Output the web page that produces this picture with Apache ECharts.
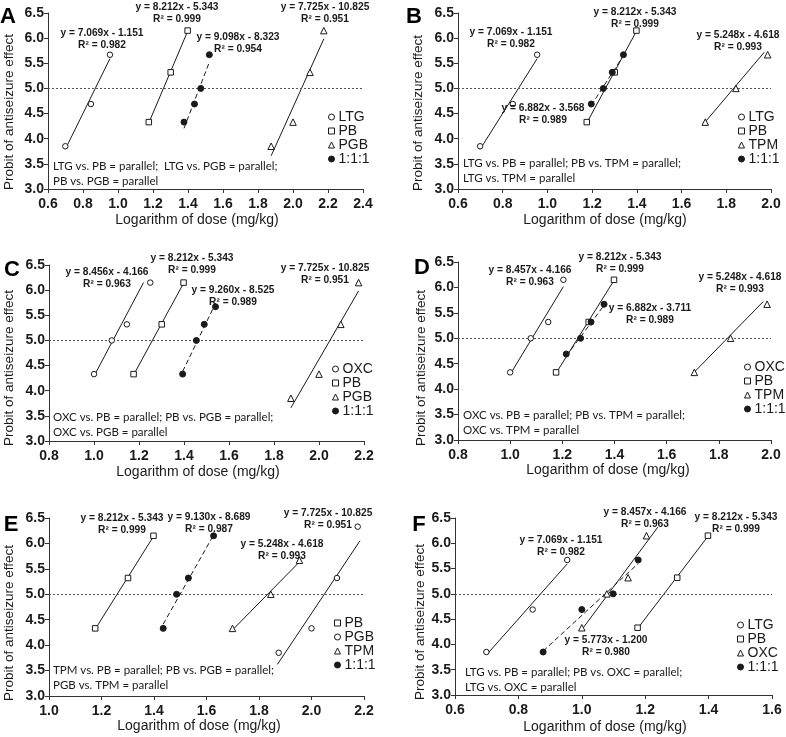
<!DOCTYPE html>
<html><head><meta charset="utf-8">
<script src="https://cdn.jsdelivr.net/npm/echarts@6/dist/echarts.min.js"></script>
<style>html,body{margin:0;padding:0;background:#fff}#c{width:786px;height:737px}</style>
</head><body><div id="c"></div><script>
// ---------- data ----------
const panelLetters = ['A','B','C','D','E','F'];
const xMin = [0.6, 0.6, 0.8, 0.8, 1.0, 0.6];
const xMax = [2.4, 2.0, 2.2, 2.0, 2.2, 1.6];
const yMin = 3.0, yMax = 6.5, yStep = 0.5, xStep = 0.2;
const refProbit = 5.0;

// Panel A
const A_LTG = [[0.699,3.85],[0.845,4.69],[0.954,5.67]];
const A_PB  = [[1.176,4.33],[1.301,5.32],[1.398,6.15]];
const A_PGB = [[1.875,3.85],[2.000,4.33],[2.097,5.32],[2.176,6.15]];
const A_MIX = [[1.377,4.33],[1.437,4.69],[1.473,5.00],[1.522,5.67]];
// Panel B
const B_LTG = [[0.699,3.85],[0.845,4.69],[0.954,5.67]];
const B_PB  = [[1.176,4.33],[1.301,5.32],[1.398,6.15]];
const B_TPM = [[1.706,4.33],[1.843,5.00],[1.985,5.67]];
const B_MIX = [[1.196,4.69],[1.250,5.00],[1.290,5.32],[1.340,5.67]];
// Panel C
const C_OXC = [[1.000,4.33],[1.079,5.00],[1.146,5.32],[1.250,6.15]];
const C_PB  = [[1.176,4.33],[1.301,5.32],[1.398,6.15]];
const C_PGB = [[1.875,3.85],[2.000,4.33],[2.097,5.32],[2.176,6.15]];
const C_MIX = [[1.394,4.33],[1.455,5.00],[1.490,5.32],[1.540,5.67]];
// Panel D
const D_OXC = [[1.000,4.33],[1.079,5.00],[1.146,5.32],[1.204,6.15]];
const D_PB  = [[1.176,4.33],[1.301,5.32],[1.398,6.15]];
const D_TPM = [[1.706,4.33],[1.845,5.00],[1.985,5.67]];
const D_MIX = [[1.215,4.69],[1.270,5.00],[1.310,5.32],[1.360,5.67]];
// Panel E
const E_PB  = [[1.176,4.33],[1.301,5.32],[1.398,6.15]];
const E_PGB = [[1.875,3.85],[2.000,4.33],[2.097,5.32],[2.176,6.33]];
const E_TPM = [[1.699,4.33],[1.845,5.00],[1.954,5.67]];
const E_MIX = [[1.435,4.33],[1.486,5.00],[1.531,5.32],[1.627,6.15]];
// Panel F
const F_LTG = [[0.699,3.85],[0.845,4.69],[0.954,5.67]];
const F_PB  = [[1.176,4.33],[1.301,5.32],[1.398,6.15]];
const F_OXC = [[1.000,4.33],[1.079,5.00],[1.146,5.32],[1.204,6.15]];
const F_MIX = [[0.878,3.85],[1.000,4.69],[1.099,5.00],[1.178,5.67]];

// trendline equations [slope, intercept, R2]
const A_fit = {LTG:[7.069,-1.151,0.982], PB:[8.212,-5.343,0.999], PGB:[7.725,-10.825,0.951], MIX:[9.098,-8.323,0.954]};
const B_fit = {LTG:[7.069,-1.151,0.982], PB:[8.212,-5.343,0.999], TPM:[5.248,-4.618,0.993], MIX:[6.882,-3.568,0.989]};
const C_fit = {OXC:[8.456,-4.166,0.963], PB:[8.212,-5.343,0.999], PGB:[7.725,-10.825,0.951], MIX:[9.260,-8.525,0.989]};
const D_fit = {OXC:[8.457,-4.166,0.963], PB:[8.212,-5.343,0.999], TPM:[5.248,-4.618,0.993], MIX:[6.882,-3.711,0.989]};
const E_fit = {PB:[8.212,-5.343,0.999], MIX:[9.130,-8.689,0.987], TPM:[5.248,-4.618,0.993], PGB:[7.725,-10.825,0.951]};
const F_fit = {LTG:[7.069,-1.151,0.982], OXC:[8.457,-4.166,0.963], PB:[8.212,-5.343,0.999], MIX:[5.773,-1.200,0.980]};

// trendline x-extent where it differs from the data extent
const B_TPM_span = [1.706, 1.97];
const C_OXC_span = [1.000, 1.22];
const D_TPM_span = [1.706, 1.97];
const E_PGB_span = [1.870, 2.185];
const F_OXC_span = [1.000, 1.24];

const parallelText = [
  ['LTG vs. PB = parallel;  LTG vs. PGB = parallel;', 'PB vs. PGB = parallel'],
  ['LTG vs. PB = parallel; PB vs. TPM = parallel;', 'LTG vs. TPM = parallel'],
  ['OXC vs. PB = parallel; PB vs. PGB = parallel;', 'OXC vs. PGB = parallel'],
  ['OXC vs. PB = parallel; PB vs. TPM = parallel;', 'OXC vs. TPM = parallel'],
  ['TPM vs. PB = parallel; PB vs. PGB = parallel;', 'PGB vs. TPM = parallel'],
  ['LTG vs. PB = parallel; PB vs. OXC = parallel;', 'LTG vs. OXC = parallel']
];
const xTitle = 'Logarithm of dose (mg/kg)';
const yTitle = 'Probit of antiseizure effect';

// ---------- layout ----------
const grids = [
  {left:48, top:13, width:315, height:176},
  {left:458, top:13, width:313, height:176},
  {left:49, top:265, width:315, height:176},
  {left:458, top:262, width:313, height:178},
  {left:49, top:518, width:315, height:178},
  {left:455, top:518, width:317, height:177}
];
const FONT = 'Liberation Sans, Arial, sans-serif';
const INK = '#1a1a1a';
const symStyle = {
  open: {symbol:'circle', size:5.5, fill:'#fff'},
  sq:   {symbol:'rect', size:5.5, fill:'#fff'},
  tri:  {symbol:'triangle', size:6.5, fill:'#fff'},
  fill: {symbol:'circle', size:6, fill:INK}
};

// [name, data, symbolKind, fit, lineType, labelPos, span]
const panels = [
  {series:[['LTG',A_LTG,'open',A_fit.LTG,'solid',[102,33]],
           ['PB',A_PB,'sq',A_fit.PB,'solid',[177,7]],
           ['PGB',A_PGB,'tri',A_fit.PGB,'solid',[325,7]],
           ['1:1:1',A_MIX,'fill',A_fit.MIX,'dash',[238,37]]],
   legend:{left:328, top:110}, letter:[8,17], ytitle:[9,112], xtitle:[197,220], par:[53,166]},
  {series:[['LTG',B_LTG,'open',B_fit.LTG,'solid',[511,32]],
           ['PB',B_PB,'sq',B_fit.PB,'solid',[635,12]],
           ['TPM',B_TPM,'tri',B_fit.TPM,'solid',[738,35],B_TPM_span],
           ['1:1:1',B_MIX,'fill',B_fit.MIX,'dash',[543,108]]],
   legend:{left:738, top:110}, letter:[414,17], ytitle:[418,113], xtitle:[605,220], par:[463,163]},
  {series:[['OXC',C_OXC,'open',C_fit.OXC,'solid',[107,272],C_OXC_span],
           ['PB',C_PB,'sq',C_fit.PB,'solid',[192,258]],
           ['PGB',C_PGB,'tri',C_fit.PGB,'solid',[325,268]],
           ['1:1:1',C_MIX,'fill',C_fit.MIX,'dash',[233,290]]],
   legend:{left:332, top:362}, letter:[12,270], ytitle:[9,368], xtitle:[198,472], par:[53,417]},
  {series:[['OXC',D_OXC,'open',D_fit.OXC,'solid',[530,270]],
           ['PB',D_PB,'sq',D_fit.PB,'solid',[620,257]],
           ['TPM',D_TPM,'tri',D_fit.TPM,'solid',[740,277],D_TPM_span],
           ['1:1:1',D_MIX,'fill',D_fit.MIX,'dash',[650,308]]],
   legend:{left:744, top:360}, letter:[422,268], ytitle:[421,368], xtitle:[608,470], par:[463,415]},
  {series:[['PB',E_PB,'sq',E_fit.PB,'solid',[122,518]],
           ['PGB',E_PGB,'open',E_fit.PGB,'solid',[328,513],E_PGB_span],
           ['TPM',E_TPM,'tri',E_fit.TPM,'solid',[282,544]],
           ['1:1:1',E_MIX,'fill',E_fit.MIX,'dash',[209,517]]],
   legend:{left:334, top:616}, letter:[11,525], ytitle:[9,623], xtitle:[199,726], par:[53,670]},
  {series:[['LTG',F_LTG,'open',F_fit.LTG,'solid',[561,540]],
           ['PB',F_PB,'sq',F_fit.PB,'solid',[736,517]],
           ['OXC',F_OXC,'tri',F_fit.OXC,'solid',[645,512],F_OXC_span],
           ['1:1:1',F_MIX,'fill',F_fit.MIX,'dash',[606,640]]],
   legend:{left:737, top:618}, letter:[419,525], ytitle:[420,622], xtitle:[605,727], par:[465,672]}
];

const fmt1 = v => (Math.round(v*10)/10).toFixed(1);
const eqText = f => 'y = ' + f[0].toFixed(3) + 'x - ' + Math.abs(f[1]).toFixed(3) + '\nR\u00b2 = ' + f[2].toFixed(3);

const option = {animation:false, backgroundColor:'#fff', grid:[], xAxis:[], yAxis:[], series:[], legend:[], graphic:[]};

panels.forEach((p, i) => {
  option.grid.push(Object.assign({containLabel:false}, grids[i]));
  option.xAxis.push({type:'value', gridIndex:i, min:xMin[i], max:xMax[i], interval:xStep,
    axisLine:{show:true, onZero:false, lineStyle:{color:'#333', width:1}},
    axisTick:{show:true, inside:false, length:4, lineStyle:{color:'#333'}},
    splitLine:{show:false},
    axisLabel:{fontFamily:FONT, fontSize:14, fontWeight:'bold', color:INK, margin:8, formatter:fmt1}});
  option.yAxis.push({type:'value', gridIndex:i, min:yMin, max:yMax, interval:yStep,
    axisLine:{show:true, onZero:false, lineStyle:{color:'#333', width:1}},
    axisTick:{show:true, inside:false, length:4, lineStyle:{color:'#333'}},
    splitLine:{show:false},
    axisLabel:{fontFamily:FONT, fontSize:14, fontWeight:'bold', color:INK, margin:4, formatter:fmt1}});

  const legendData = [];
  p.series.forEach((s, k) => {
    const [name, data, kind, fit, ltype, lpos, span] = s;
    const st = symStyle[kind];
    const xs = data.map(d => d[0]);
    const x0 = span ? span[0] : Math.min.apply(null, xs);
    const x1 = span ? span[1] : Math.max.apply(null, xs);
    option.series.push({type:'line', xAxisIndex:i, yAxisIndex:i, showSymbol:false, silent:true, z:2,
      data:[[x0, fit[0]*x0 + fit[1]], [x1, fit[0]*x1 + fit[1]]],
      lineStyle:{color:INK, width:1, type: ltype === 'dash' ? [5,3] : 'solid'}});
    const sc = {type:'scatter', name:name, xAxisIndex:i, yAxisIndex:i, data:data, z:5,
      symbol:st.symbol, symbolSize:st.size,
      itemStyle:{color:st.fill, borderColor:INK, borderWidth:1, opacity:1}};
    if (k === 0) {
      sc.markLine = {silent:true, symbol:['none','none'], label:{show:false},
        lineStyle:{color:'#555', width:1, type:[2,2]}, data:[{yAxis:refProbit}]};
    }
    option.series.push(sc);
    legendData.push({name:name, icon:st.symbol,
      itemStyle:{color:st.fill, borderColor:INK, borderWidth:1}});
    option.graphic.push({type:'text', x:lpos[0], y:lpos[1]-6, z:10,
      style:{text:eqText(fit), textAlign:'center', textVerticalAlign:'top',
        font:'bold 10.2px ' + FONT, lineHeight:12, fill:INK}});
  });
  option.legend.push({orient:'vertical', left:p.legend.left, top:p.legend.top, padding:0,
    itemWidth:6, itemHeight:6, itemGap:0, selectedMode:false, data:legendData,
    textStyle:{fontFamily:FONT, fontSize:14, color:INK, lineHeight:13.7, padding:[0,0,0,-1]}});

  option.graphic.push({type:'text', x:p.letter[0], y:p.letter[1],
    style:{text:panelLetters[i], textAlign:'center', textVerticalAlign:'middle',
      font:'bold 22px ' + FONT, fill:'#000'}});
  option.graphic.push({type:'text', x:p.ytitle[0], y:p.ytitle[1], rotation:Math.PI/2,
    style:{text:yTitle, textAlign:'center', textVerticalAlign:'middle',
      font:'13.5px ' + FONT, fill:INK}});
  option.graphic.push({type:'text', x:p.xtitle[0], y:p.xtitle[1],
    style:{text:xTitle, textAlign:'center', textVerticalAlign:'middle',
      font:'14px ' + FONT, fill:INK}});
  option.graphic.push({type:'text', x:p.par[0], y:p.par[1]-7,
    style:{text:parallelText[i].join('\n'), textAlign:'left', textVerticalAlign:'top',
      font:'11.5px Lato, sans-serif', lineHeight:15, fill:INK}});
});

const chart = echarts.init(document.getElementById('c'), null, {renderer:'canvas'});
chart.setOption(option);
</script></body></html>
